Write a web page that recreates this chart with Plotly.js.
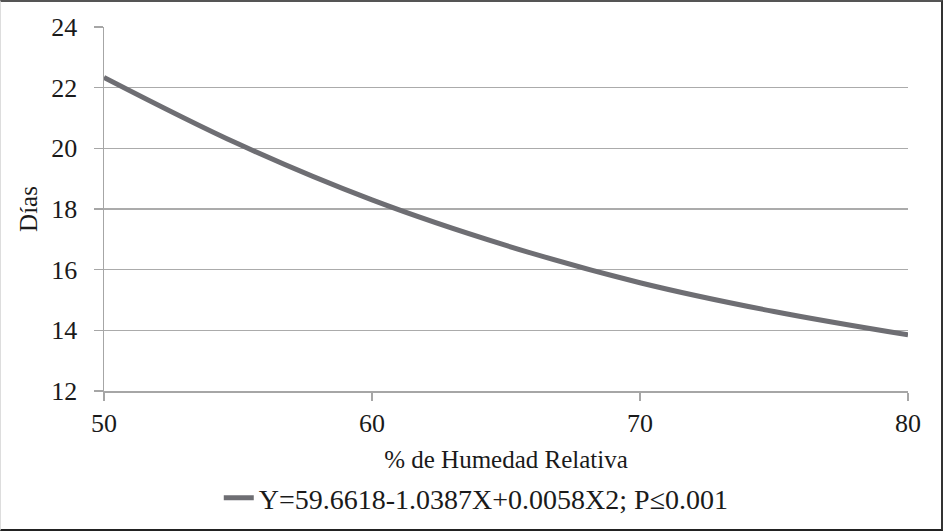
<!DOCTYPE html>
<html>
<head>
<meta charset="utf-8">
<script src="https://cdn.plot.ly/plotly-3.0.1.min.js"></script>
<style>
  html, body { margin: 0; padding: 0; background: #fff; }
  #frame { position: relative; width: 943px; height: 531px; box-sizing: border-box;
           border-top: 2px solid #555; border-right: 2px solid #333; border-bottom: 2px solid #222; border-left: 1px solid #ddd; overflow: hidden; }
  #chart { position: absolute; left: -1px; top: -2px; width: 943px; height: 531px; }
</style>
</head>
<body>
<div id="frame"><div id="chart"></div></div>
<script>
// Data
const humedad = [50, 55, 60, 65, 70, 75, 80];
const dias = [22.34, 20.15, 18.3, 16.8, 15.57, 14.62, 13.85];
const seriesName = "Y=59.6618-1.0387X+0.0058X2; P\u22640.001";
const xTicks = [50, 60, 70, 80];
const yTicks = [12, 14, 16, 18, 20, 22, 24];

const font = "'Liberation Serif', 'Times New Roman', 'DejaVu Serif', serif";

const trace = {
  x: humedad,
  y: dias,
  type: "scatter",
  mode: "lines",
  name: seriesName,
  line: { color: "#6e6e73", width: 5, shape: "spline", smoothing: 1 },
  showlegend: true
};

const layout = {
  width: 943,
  height: 531,
  margin: { l: 104, r: 35, t: 27, b: 140, autoexpand: false },
  paper_bgcolor: "#ffffff",
  plot_bgcolor: "#ffffff",
  font: { family: font, size: 25, color: "#1a1a1a" },
  showlegend: true,
  legend: {
    orientation: "h",
    xref: "container", yref: "container",
    x: 0.232, xanchor: "left",
    y: 0.062, yanchor: "middle",
    font: { family: font, size: 28, color: "#1a1a1a" },
    bgcolor: "rgba(0,0,0,0)"
  },
  xaxis: {
    range: [50, 80],
    tickvals: xTicks,
    ticktext: xTicks.map(String),
    showgrid: false,
    zeroline: false,
    showline: true,
    linecolor: "#a6a6a6",
    linewidth: 1.5,
    ticks: "outside",
    ticklen: 8,
    tickcolor: "#a6a6a6",
    tickwidth: 1.5,
    tickfont: { family: font, size: 26, color: "#1a1a1a" },
    title: { text: "% de Humedad Relativa", font: { family: font, size: 25, color: "#1a1a1a" }, standoff: 16 },
    fixedrange: true
  },
  yaxis: {
    range: [12, 24],
    tickvals: yTicks,
    ticktext: yTicks.map(String),
    showgrid: true,
    gridcolor: "#ababab",
    gridwidth: 1.5,
    zeroline: false,
    showline: true,
    linecolor: "#a6a6a6",
    linewidth: 1.5,
    ticks: "outside",
    ticklen: 9,
    tickcolor: "#a6a6a6",
    tickwidth: 1.5,
    ticklabelstandoff: 11,
    tickfont: { family: font, size: 26, color: "#1a1a1a" },
    title: { text: "Días", font: { family: font, size: 25, color: "#1a1a1a" }, standoff: 6 },
    fixedrange: true
  }
};

Plotly.newPlot("chart", [trace], layout, { staticPlot: true, displayModeBar: false });
</script>
</body>
</html>
